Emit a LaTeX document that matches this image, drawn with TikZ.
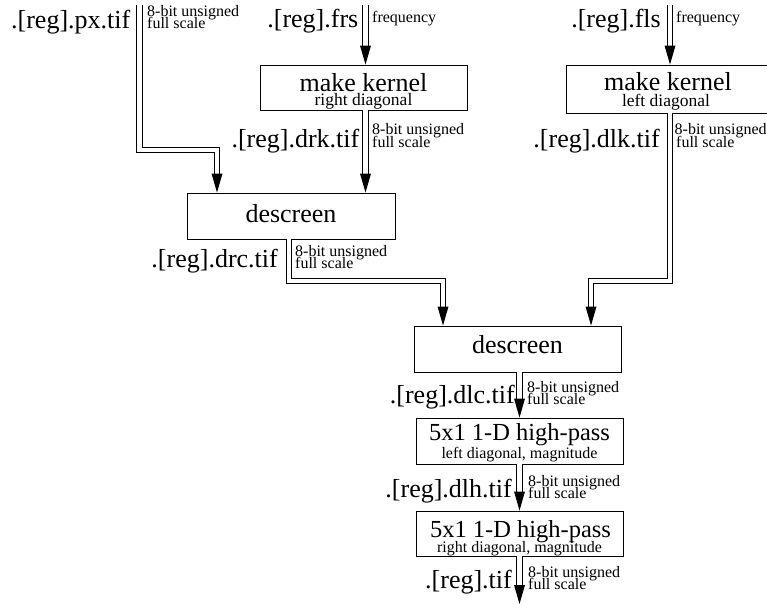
\documentclass[tikz,border=0pt]{standalone}
\usepackage{fontspec}
\setmainfont{Liberation Serif}
\newcommand\mytip[1]{\fill (#1) -- ++(-5.5,-19) -- ++(11,0) -- cycle;}
\begin{document}
\begin{tikzpicture}[x=1pt,y=-1pt,
  box/.style={draw, line width=0.9pt, minimum width=207pt, minimum height=46pt, inner sep=0pt},
  dbl/.style={draw, double, double distance=4.7pt, line width=0.9pt, shorten >=14pt},
  big/.style={font=\fontsize{26}{28}\selectfont, inner sep=0pt},
  title/.style={font=\fontsize{26}{28}\selectfont, inner sep=0pt, anchor=base},
  hptitle/.style={font=\fontsize{24.5}{26}\selectfont, inner sep=0pt, anchor=base},
  sub/.style={font=\fontsize{17.5}{19}\selectfont, inner sep=0pt, anchor=base},
  hpsub/.style={font=\fontsize{16}{18}\selectfont, inner sep=0pt, anchor=base},
  sml/.style={font=\fontsize{16}{18}\selectfont, inner sep=0pt, anchor=base west},
  lbl/.style={big, anchor=base east}]
\useasboundingbox (0,0) rectangle (767,604);

% boxes
\node[box, minimum height=45pt] (mkR) at (363.5,87.5) {};
\node[box, minimum height=48pt] (mkL) at (669.5,89) {};
\node[box, minimum width=208pt] (dsA) at (291,216) {};
\node[box] (dsB) at (517.5,349) {};
\node[box] (hpA) at (519.5,441) {};
\node[box, minimum height=45pt] (hpB) at (519.5,533.5) {};

% box texts
\node[title] (mkRt) at (363.5,92) {make kernel};
\node[sub] (mkRs) at (363.5,106) {right diagonal};
\node[title] (mkLt) at (668,91) {make kernel};
\node[sub] (mkLs) at (666,107) {left diagonal};
\node[title] (dsAt) at (291,222) {descreen};
\node[title] (dsBt) at (517.5,353) {descreen};
\node[hptitle] (hpAt) at (519.5,440) {5x1 1-D high-pass};
\node[hpsub] (hpAs) at (519.5,458) {left diagonal, magnitude};
\node[hptitle] (hpBt) at (520.5,537) {5x1 1-D high-pass};
\node[hpsub] (hpBs) at (519.5,552) {right diagonal, magnitude};

% connector end points
\coordinate (pxIn) at (139.5,5);
\coordinate (frsIn) at (365.5,5);
\coordinate (flsIn) at (670,5);
\coordinate (out) at (519.5,604);
\coordinate (dsAin1) at ([xshift=-74pt]dsA.north);
\coordinate (dsAin2) at (frsIn |- dsA.north);
\coordinate (mkRin) at (frsIn |- mkR.north);
\coordinate (mkRout) at (frsIn |- mkR.south);
\coordinate (mkLin) at (flsIn |- mkL.north);
\coordinate (mkLout) at (flsIn |- mkL.south);
\coordinate (dsAout) at ([xshift=-2pt]dsA.south);
\coordinate (dsBin1) at ([xshift=-74.5pt]dsB.north);
\coordinate (dsBin2) at ([xshift=73.5pt]dsB.north);
\coordinate (dsBout) at (hpA.north |- dsB.south);

% connectors
\draw[dbl] (pxIn) -- ++(0,145) -| (dsAin1);
\mytip{dsAin1}
\draw[dbl] (frsIn) -- (mkRin);
\mytip{mkRin}
\draw[dbl] (mkRout) -- (dsAin2);
\mytip{dsAin2}
\draw[dbl] (flsIn) -- (mkLin);
\mytip{mkLin}
\draw[dbl] (dsAout) -- ++(0,41.5) -| (dsBin1);
\mytip{dsBin1}
\draw[dbl] (mkLout) -- ++(0,167.5) -| (dsBin2);
\mytip{dsBin2}
\draw[dbl] (dsBout) -- (hpA.north);
\mytip{hpA.north}
\draw[dbl] (hpA.south) -- (hpB.north);
\mytip{hpB.north}
\draw[dbl] (hpB.south) -- (out);
\mytip{out}

% labels
\node[lbl] (pxL) at (130.5,29) {.[reg].px.tif};
\node[sml] (pxS1) at (147,17) {8-bit unsigned};
\node[sml] (pxS2) at (147,29) {full scale};
\node[lbl] (frsL) at (358.5,28) {.[reg].frs};
\node[sml] (frsS) at (372,23) {frequency};
\node[lbl] (flsL) at (661,28) {.[reg].fls};
\node[sml] (flsS) at (676,23) {frequency};
\node[lbl] (drkL) at (359.5,147) {.[reg].drk.tif};
\node[sml] (drkS1) at (372,135) {8-bit unsigned};
\node[sml] (drkS2) at (372,147) {full scale};
\node[lbl] (dlkL) at (660,147) {.[reg].dlk.tif};
\node[sml] (dlkS1) at (674.5,135) {8-bit unsigned};
\node[sml] (dlkS2) at (676,147) {full scale};
\node[lbl] (drcL) at (278,267) {.[reg].drc.tif};
\node[sml] (drcS1) at (295,256) {8-bit unsigned};
\node[sml] (drcS2) at (295,268) {full scale};
\node[lbl] (dlcL) at (515,403) {.[reg].dlc.tif};
\node[sml] (dlcS1) at (527,392) {8-bit unsigned};
\node[sml] (dlcS2) at (527,404) {full scale};
\node[lbl] (dlhL) at (512,497) {.[reg].dlh.tif};
\node[sml] (dlhS1) at (528,486) {8-bit unsigned};
\node[sml] (dlhS2) at (528,498) {full scale};
\node[lbl] (tifL) at (512,588) {.[reg].tif};
\node[sml] (tifS1) at (528,577) {8-bit unsigned};
\node[sml] (tifS2) at (528,589) {full scale};
\end{tikzpicture}
\end{document}
